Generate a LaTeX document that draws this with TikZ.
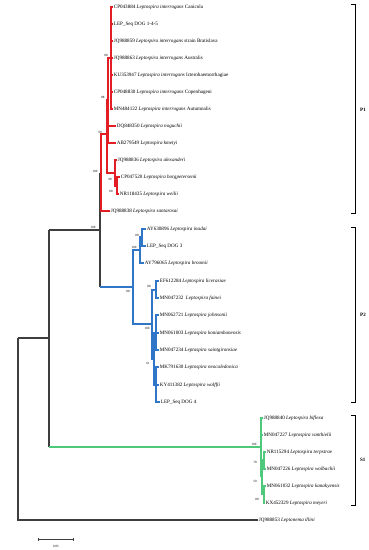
\documentclass[tikz,border=0pt]{standalone}
\usepackage{fontspec}
\setmainfont{Liberation Serif}
\usepackage{tikz}
\usetikzlibrary{positioning, arrows.meta}

\definecolor{treegray}{RGB}{62,62,62}
\definecolor{pone}{RGB}{226,30,36}
\definecolor{ptwo}{RGB}{48,118,200}
\definecolor{sone}{RGB}{78,200,122}

\begin{document}
\begin{tikzpicture}[x=1pt, y=-1pt,
		branch/.style={draw=treegray, line width=1.2pt},
		p_one/.style={draw=pone, line width=1.2pt},
		p_two/.style={draw=ptwo, line width=1.2pt},
		s_one/.style={draw=sone, line width=1.2pt},
		taxon/.style={anchor=west, inner sep=0.7pt, font=\fontsize{5.1}{6}\selectfont},
		boot/.style={inner sep=0pt, font=\fontsize{3.2}{3.6}\selectfont},
		clade_label/.style={anchor=west, inner sep=0pt, font=\fontsize{5}{6}\selectfont\bfseries},
		clade_bracket/.style={draw=black, line width=0.9pt},
		scale_bar/.style={draw=treegray, line width=1pt, {Bar[width=3pt]}-{Bar[width=3pt]}}
		]
		\useasboundingbox (0,0) rectangle (368,550);
		
		% internal nodes
		\coordinate (root) at (18,338);
		\coordinate (ingrp) at (49,338);
		\coordinate (pp) at (100,230);
		\coordinate (p1) at (101,173);
		\coordinate (p1a) at (107,134);
		\coordinate (p1b) at (108,100);
		\coordinate (inter) at (111,58);
		\coordinate (alx_n) at (115,173);
		\coordinate (bw_n) at (117,186);
		\coordinate (p2) at (133,287);
		\coordinate (p2a) at (140,250);
		\coordinate (ina_n) at (142,237);
		\coordinate (p2b) at (152,324);
		\coordinate (lic_n) at (156,290);
		\coordinate (v_n) at (154,359);
		\coordinate (w_n) at (156,333);
		\coordinate (z_n) at (156,385);
		\coordinate (s1) at (261,447);
		\coordinate (y_n) at (262,476);
		\coordinate (z1) at (264,460);
		\coordinate (z2) at (264,494);
		
		% P1 taxa
		\node[taxon] (can) at (113,7) {CP043884 \textit{Leptospira interrogans} Canicola};
		\node[taxon] (dog145) at (113,24) {LEP\_Seq DOG 1-4-5};
		\node[taxon] (brat) at (113,41) {JQ988859 \textit{Leptospira interrogans} strain Bratislava};
		\node[taxon] (aus) at (113,58) {JQ988863 \textit{Leptospira interrogans} Australis};
		\node[taxon] (ict) at (113,75) {KU353947 \textit{Leptospira interrogans} Icterohaemorrhagiae};
		\node[taxon] (cop) at (113,92) {CP048830 \textit{Leptospira interrogans} Copenhageni};
		\node[taxon] (aut) at (113,109) {MN484122 \textit{Leptospira interrogans} Autumnalis};
		\node[taxon] (nog) at (116,126) {DQ848350 \textit{Leptospira noguchii}};
		\node[taxon] (kme) at (116,143) {AB279549 \textit{Leptospira kmetyi}};
		\node[taxon] (alx) at (117,160) {JQ988836 \textit{Leptospira alexanderi}};
		\node[taxon] (bor) at (120,177) {CP047520 \textit{Leptospira borgpetersenii}};
		\node[taxon] (wei) at (119,194) {NR118435 \textit{Leptospira weilii}};
		\node[taxon] (san) at (110,211) {JQ988838 \textit{Leptospira santarosai}};
		
		% P2 taxa
		\node[taxon] (ina) at (146,229) {AY630896 \textit{Leptospira inadai}};
		\node[taxon] (dog3) at (146,246) {LEP\_Seq DOG 3};
		\node[taxon] (bro) at (144,263) {AY796065 \textit{Leptospira broomii}};
		\node[taxon] (lic) at (159,281) {EF612284 \textit{Leptospira licerasiae}};
		\node[taxon] (fai) at (159,298) {MN047232 \ \textit{Leptospira fainei}};
		\node[taxon] (joh) at (159,315) {MN062721 \textit{Leptospira johnsonii}};
		\node[taxon] (kon) at (159,333) {MN061003 \textit{Leptospira koniambonensis}};
		\node[taxon] (sai) at (159,350) {MN047234 \textit{Leptospira saintgironsiae}};
		\node[taxon] (neo) at (159,367) {MK791630 \textit{Leptospira neocaledonica}};
		\node[taxon] (wol) at (159,385) {KY411382 \textit{Leptospira wolffii}};
		\node[taxon] (dog4) at (160,402) {LEP\_Seq DOG 4};
		
		% S1 taxa
		\node[taxon] (bif) at (263,418) {JQ988840 \textit{Leptospira biflexa}};
		\node[taxon] (van) at (263,435) {MN047227 \textit{Leptospira vanthielii}};
		\node[taxon] (ter) at (266,452) {NR115294 \textit{Leptospira terpstrae}};
		\node[taxon] (wlb) at (266,469) {MN047226 \textit{Leptospira wolbachii}};
		\node[taxon] (kan) at (266,486) {MN061032 \textit{Leptospira kanakyensis}};
		\node[taxon] (mey) at (265,503) {KX452329 \textit{Leptospira meyeri}};
		
		% outgroup
		\node[taxon] (ill) at (258,520) {JQ988853 \textit{Leptonema illini}};
		
		% backbone
		\draw[branch] (root) |- (ill.west);
		\draw[branch] (root) -- (ingrp);
		\draw[branch] (ingrp |- pp) -- (ingrp |- s1);
		\draw[branch] (ingrp |- pp) -- (pp);
		\draw[branch] (pp |- p1) -- (pp |- p2);
		\draw[p_one] (pp |- p1) -- (p1);
		\draw[p_two] (pp |- p2) -- (p2);
		\draw[s_one] (ingrp |- s1) -- (s1);
		
		% P1 branches
		\draw[p_one] (p1) |- (p1a);
		\draw[p_one] (p1) |- (san.west);
		\draw[p_one] (p1a) |- (p1b);
		\draw[p_one] (p1a) |- (alx_n);
		\draw[p_one] (p1b) |- (inter);
		\draw[p_one] (p1b) |- (nog.west);
		\draw[p_one] (p1b) |- (kme.west);
		\draw[p_one] (inter) |- (can.west);
		\draw[p_one] (inter) |- (dog145.west);
		\draw[p_one] (inter) |- (brat.west);
		\draw[p_one] (inter) |- (aus.west);
		\draw[p_one] (inter) |- (ict.west);
		\draw[p_one] (inter) |- (cop.west);
		\draw[p_one] (inter) |- (aut.west);
		\draw[p_one] (alx_n) |- (alx.west);
		\draw[p_one] (alx_n) |- (bw_n);
		\draw[p_one] (bw_n) |- (bor.west);
		\draw[p_one] (bw_n) |- (wei.west);
		
		% P2 branches
		\draw[p_two] (p2) |- (p2a);
		\draw[p_two] (p2) |- (p2b);
		\draw[p_two] (p2a) |- (ina_n);
		\draw[p_two] (p2a) |- (bro.west);
		\draw[p_two] (ina_n) |- (ina.west);
		\draw[p_two] (ina_n) |- (dog3.west);
		\draw[p_two] (p2b) |- (lic_n);
		\draw[p_two] (p2b) |- (v_n);
		\draw[p_two] (lic_n) |- (lic.west);
		\draw[p_two] (lic_n) |- (fai.west);
		\draw[p_two] (v_n) |- (w_n);
		\draw[p_two] (v_n) |- (z_n);
		\draw[p_two] (w_n) |- (joh.west);
		\draw[p_two] (w_n) |- (kon.west);
		\draw[p_two] (w_n) |- (sai.west);
		\draw[p_two] (z_n) |- (neo.west);
		\draw[p_two] (z_n) |- (wol.west);
		\draw[p_two] (z_n) |- (dog4.west);
		
		% S1 branches
		\draw[s_one] (s1) |- (bif.west);
		\draw[s_one] (s1) |- (van.west);
		\draw[s_one] (s1) |- (y_n);
		\draw[s_one] (y_n) |- (z1);
		\draw[s_one] (y_n) |- (z2);
		\draw[s_one] (z1) |- (ter.west);
		\draw[s_one] (z1) |- (wlb.west);
		\draw[s_one] (z2) |- (kan.west);
		\draw[s_one] (z2) |- (mey.west);
		
		% bootstrap values
		\node[boot] (b_inter) at (106,55) {88};
		\node[boot] (b_p1b) at (103,97) {88};
		\node[boot] (b_p1a) at (100,132) {99};
		\node[boot] (b_p1) at (95,171) {100};
		\node[boot] (b_alx) at (110,179) {98};
		\node[boot] (b_bw) at (111,191) {88};
		\node[boot] (b_pp) at (93,227) {100};
		\node[boot] (b_ina) at (137,235) {88};
		\node[boot] (b_p2a) at (134,247) {100};
		\node[boot] (b_p2) at (128,291) {88};
		\node[boot] (b_lic) at (149,286) {88};
		\node[boot] (b_p2b) at (147,328) {100};
		\node[boot] (b_v) at (148,363) {61};
		\node[boot] (b_s1) at (254,444) {100};
		\node[boot] (b_z1) at (255,462) {78};
		\node[boot] (b_y) at (255,481) {50};
		\node[boot] (b_z2) at (257,499) {88};
		
		% clade brackets
		\draw[clade_bracket] (351,4) -- (355,4) -- (355,213) -- (351,213);
		\node[clade_label] (lab_p1) at (360,110) {P1};
		\draw[clade_bracket] (351,227) -- (355,227) -- (355,402) -- (351,402);
		\node[clade_label] (lab_p2) at (360,315) {P2};
		\draw[clade_bracket] (351,415) -- (355,415) -- (355,505) -- (351,505);
		\node[clade_label] (lab_s1) at (360,460) {S1};
		
		% scale bar
		\coordinate (bar_l) at (38,539);
		\coordinate (bar_r) at (74,539);
		\draw[scale_bar] (bar_l) -- (bar_r);
		\node[boot] (bar_lab) at (56,546) {0.05};
	\end{tikzpicture}
\end{document}
